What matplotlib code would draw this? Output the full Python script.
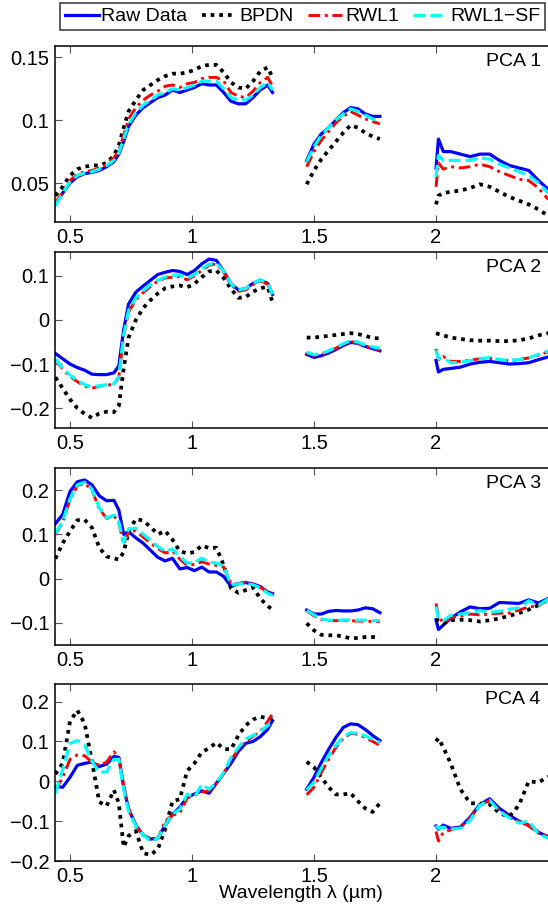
import numpy as np
import matplotlib
matplotlib.use('Agg')
import matplotlib.pyplot as plt
import matplotlib.transforms as mtransforms
from matplotlib.ticker import FuncFormatter

plt.rcParams['font.family'] = ['Liberation Sans', 'DejaVu Sans']
plt.rcParams['font.size'] = 14

# wavelength samples of the three bands (um)
wl_a = [0.44, 0.47, 0.50, 0.53, 0.56, 0.59, 0.62, 0.65, 0.68, 0.70, 0.72, 0.74, 0.77, 0.80, 0.83, 0.86,
        0.89, 0.92, 0.95, 0.98, 1.01, 1.04, 1.07, 1.10, 1.13, 1.16, 1.19, 1.22, 1.25, 1.28, 1.31, 1.33]
wl_b = [1.47, 1.50, 1.53, 1.56, 1.59, 1.62, 1.65, 1.68, 1.71, 1.74, 1.77]
wl_c = [2.00, 2.01, 2.03, 2.06, 2.10, 2.14, 2.18, 2.22, 2.26, 2.30, 2.34, 2.38, 2.42, 2.46]

labels = ['Raw Data', 'BPDN', 'RWL1', 'RWL1\u2212SF']
panel_names = ['PCA 1', 'PCA 2', 'PCA 3', 'PCA 4']

# PCA 1
raw_1 = [0.033, 0.042, 0.050, 0.055, 0.0575, 0.0585, 0.060, 0.063, 0.067, 0.073, 0.083, 0.095, 0.104, 0.110, 0.114, 0.118,
         0.120, 0.124, 0.122, 0.124, 0.126, 0.129, 0.128, 0.128, 0.122, 0.115, 0.113, 0.113, 0.118, 0.124, 0.128, 0.122,
         0.068, 0.081, 0.089, 0.094, 0.100, 0.106, 0.110, 0.109, 0.105, 0.103, 0.103,
         0.062, 0.085, 0.075, 0.075, 0.073, 0.071, 0.073, 0.073, 0.068, 0.064, 0.062, 0.060, 0.052, 0.045]
bpdn_1 = [0.040, 0.047, 0.056, 0.061, 0.063, 0.064, 0.064, 0.066, 0.072, 0.080, 0.094, 0.107, 0.116, 0.124, 0.128, 0.132,
          0.135, 0.137, 0.137, 0.138, 0.140, 0.143, 0.144, 0.144, 0.138, 0.130, 0.126, 0.125, 0.131, 0.139, 0.142, 0.134,
          0.049, 0.060, 0.069, 0.076, 0.083, 0.090, 0.096, 0.094, 0.090, 0.087, 0.085,
          0.033, 0.040, 0.042, 0.043, 0.044, 0.046, 0.049, 0.047, 0.043, 0.039, 0.036, 0.033, 0.029, 0.024]
rwl_1 = [0.034, 0.043, 0.052, 0.057, 0.059, 0.060, 0.062, 0.065, 0.070, 0.076, 0.088, 0.101, 0.110, 0.116, 0.120, 0.123,
         0.127, 0.128, 0.126, 0.129, 0.130, 0.133, 0.134, 0.134, 0.131, 0.122, 0.119, 0.118, 0.123, 0.130, 0.134, 0.127,
         0.063, 0.075, 0.084, 0.091, 0.098, 0.103, 0.107, 0.104, 0.101, 0.099, 0.097,
         0.047, 0.066, 0.061, 0.063, 0.062, 0.063, 0.065, 0.063, 0.059, 0.056, 0.053, 0.052, 0.046, 0.037]
sf_1 = [0.032, 0.042, 0.051, 0.056, 0.058, 0.059, 0.061, 0.064, 0.068, 0.074, 0.085, 0.097, 0.106, 0.112, 0.116, 0.120,
        0.122, 0.125, 0.124, 0.126, 0.128, 0.131, 0.131, 0.131, 0.125, 0.118, 0.116, 0.116, 0.120, 0.126, 0.130, 0.124,
        0.067, 0.079, 0.088, 0.094, 0.100, 0.105, 0.109, 0.107, 0.104, 0.101, 0.100,
        0.055, 0.072, 0.068, 0.068, 0.068, 0.068, 0.070, 0.069, 0.065, 0.062, 0.059, 0.056, 0.050, 0.042]

# PCA 2
raw_2 = [-0.076, -0.088, -0.100, -0.108, -0.114, -0.123, -0.124, -0.124, -0.120, -0.104, -0.022, 0.036, 0.063, 0.077, 0.090, 0.103,
         0.108, 0.112, 0.110, 0.103, 0.112, 0.127, 0.138, 0.135, 0.110, 0.082, 0.068, 0.071, 0.083, 0.090, 0.083, 0.058,
         -0.078, -0.085, -0.081, -0.075, -0.067, -0.058, -0.051, -0.053, -0.060, -0.065, -0.070,
         -0.092, -0.118, -0.112, -0.110, -0.107, -0.100, -0.096, -0.094, -0.097, -0.100, -0.099, -0.097, -0.090, -0.084]
bpdn_2 = [-0.130, -0.155, -0.180, -0.200, -0.213, -0.222, -0.212, -0.208, -0.209, -0.195, -0.110, -0.040, 0.000, 0.027, 0.045, 0.060,
          0.072, 0.076, 0.078, 0.074, 0.082, 0.097, 0.110, 0.112, 0.095, 0.070, 0.050, 0.052, 0.064, 0.072, 0.075, 0.040,
          -0.040, -0.040, -0.038, -0.036, -0.034, -0.032, -0.030, -0.032, -0.036, -0.041, -0.042,
          -0.030, -0.032, -0.035, -0.040, -0.043, -0.046, -0.047, -0.047, -0.048, -0.048, -0.046, -0.042, -0.035, -0.030]
rwl_2 = [-0.090, -0.112, -0.128, -0.140, -0.150, -0.155, -0.150, -0.148, -0.146, -0.130, -0.036, 0.018, 0.046, 0.062, 0.076, 0.088,
         0.095, 0.097, 0.098, 0.091, 0.100, 0.112, 0.124, 0.127, 0.108, 0.080, 0.065, 0.068, 0.080, 0.089, 0.081, 0.056,
         -0.075, -0.080, -0.078, -0.072, -0.064, -0.055, -0.049, -0.052, -0.060, -0.064, -0.068,
         -0.066, -0.090, -0.083, -0.094, -0.094, -0.091, -0.088, -0.087, -0.091, -0.092, -0.090, -0.086, -0.080, -0.072]
sf_2 = [-0.088, -0.110, -0.125, -0.137, -0.147, -0.152, -0.149, -0.147, -0.145, -0.128, -0.034, 0.022, 0.050, 0.066, 0.080, 0.090,
        0.097, 0.101, 0.102, 0.094, 0.103, 0.116, 0.126, 0.129, 0.110, 0.082, 0.068, 0.071, 0.083, 0.091, 0.083, 0.058,
        -0.073, -0.079, -0.076, -0.070, -0.062, -0.054, -0.047, -0.050, -0.057, -0.061, -0.064,
        -0.069, -0.088, -0.086, -0.097, -0.096, -0.092, -0.088, -0.085, -0.090, -0.092, -0.090, -0.086, -0.078, -0.070]

# PCA 3
raw_3 = [0.124, 0.145, 0.197, 0.219, 0.223, 0.212, 0.187, 0.176, 0.177, 0.155, 0.100, 0.106, 0.092, 0.080, 0.064, 0.048,
         0.040, 0.046, 0.022, 0.025, 0.018, 0.026, 0.015, 0.015, 0.005, -0.018, -0.011, -0.009, -0.012, -0.018, -0.030, -0.034,
         -0.071, -0.080, -0.080, -0.074, -0.072, -0.073, -0.073, -0.071, -0.066, -0.068, -0.077,
         -0.093, -0.115, -0.105, -0.090, -0.075, -0.064, -0.068, -0.067, -0.054, -0.055, -0.056, -0.048, -0.055, -0.045]
bpdn_3 = [0.045, 0.080, 0.107, 0.132, 0.133, 0.115, 0.070, 0.050, 0.046, 0.043, 0.060, 0.106, 0.135, 0.131, 0.117, 0.100,
          0.108, 0.088, 0.062, 0.057, 0.060, 0.075, 0.069, 0.070, 0.030, -0.022, -0.032, -0.026, -0.020, -0.045, -0.062, -0.070,
          -0.101, -0.117, -0.127, -0.128, -0.128, -0.131, -0.135, -0.134, -0.132, -0.132, -0.132,
          -0.090, -0.095, -0.101, -0.094, -0.093, -0.094, -0.097, -0.094, -0.090, -0.084, -0.078, -0.070, -0.060, -0.047]
rwl_3 = [0.100, 0.128, 0.178, 0.210, 0.216, 0.200, 0.158, 0.136, 0.142, 0.126, 0.078, 0.106, 0.108, 0.094, 0.080, 0.068,
         0.058, 0.062, 0.044, 0.030, 0.032, 0.038, 0.033, 0.030, 0.026, -0.012, -0.012, -0.008, -0.012, -0.020, -0.030, -0.032,
         -0.073, -0.084, -0.092, -0.095, -0.095, -0.095, -0.095, -0.096, -0.096, -0.097, -0.097,
         -0.056, -0.085, -0.100, -0.088, -0.085, -0.080, -0.082, -0.080, -0.078, -0.078, -0.071, -0.064, -0.062, -0.046]
sf_3 = [0.102, 0.130, 0.180, 0.212, 0.218, 0.202, 0.160, 0.137, 0.143, 0.128, 0.082, 0.112, 0.114, 0.100, 0.087, 0.072,
        0.062, 0.067, 0.050, 0.035, 0.037, 0.046, 0.037, 0.035, 0.028, -0.014, -0.012, -0.011, -0.014, -0.021, -0.033, -0.038,
        -0.072, -0.082, -0.091, -0.094, -0.094, -0.094, -0.093, -0.094, -0.094, -0.095, -0.095,
        -0.063, -0.090, -0.095, -0.083, -0.080, -0.077, -0.072, -0.076, -0.074, -0.069, -0.066, -0.050, -0.060, -0.046]

# PCA 4
raw_4 = [-0.013, -0.015, 0.010, 0.040, 0.045, 0.048, 0.037, 0.043, 0.062, 0.060, -0.015, -0.070, -0.110, -0.135, -0.145, -0.143,
         -0.110, -0.083, -0.065, -0.040, -0.032, -0.024, -0.030, -0.005, 0.020, 0.045, 0.075, 0.095, 0.100, 0.112, 0.130, 0.152,
         -0.020, 0.010, 0.047, 0.080, 0.110, 0.135, 0.144, 0.142, 0.130, 0.115, 0.102,
         -0.112, -0.120, -0.110, -0.118, -0.115, -0.090, -0.058, -0.044, -0.068, -0.085, -0.100, -0.110, -0.128, -0.140]
bpdn_4 = [0.018, 0.045, 0.150, 0.178, 0.145, 0.050, -0.052, -0.062, -0.022, -0.055, -0.165, -0.137, -0.125, -0.180, -0.185, -0.170,
          -0.120, -0.050, -0.045, 0.026, 0.045, 0.073, 0.083, 0.097, 0.081, 0.080, 0.115, 0.140, 0.155, 0.162, 0.158, 0.157,
          0.049, 0.035, 0.010, -0.015, -0.033, -0.033, -0.030, -0.050, -0.068, -0.077, -0.055,
          0.100, 0.108, 0.085, 0.045, -0.020, -0.055, -0.056, -0.058, -0.080, -0.089, -0.060, 0.000, -0.003, 0.012]
rwl_4 = [-0.022, 0.010, 0.055, 0.066, 0.064, 0.048, 0.040, 0.048, 0.074, 0.060, -0.010, -0.067, -0.114, -0.134, -0.147, -0.144,
         -0.100, -0.085, -0.080, -0.042, -0.035, -0.027, -0.024, -0.005, 0.020, 0.053, 0.080, 0.100, 0.113, 0.125, 0.150, 0.170,
         -0.034, -0.015, 0.022, 0.055, 0.085, 0.108, 0.120, 0.118, 0.110, 0.100, 0.090,
         -0.126, -0.150, -0.128, -0.122, -0.115, -0.092, -0.060, -0.048, -0.072, -0.090, -0.100, -0.112, -0.130, -0.138]
sf_4 = [-0.030, 0.030, 0.095, 0.102, 0.091, 0.050, 0.022, 0.024, 0.055, 0.055, -0.020, -0.075, -0.112, -0.135, -0.150, -0.143,
        -0.110, -0.082, -0.070, -0.032, -0.040, -0.008, -0.020, -0.003, 0.022, 0.060, 0.085, 0.106, 0.115, 0.125, 0.140, 0.150,
        -0.022, -0.002, 0.033, 0.065, 0.090, 0.112, 0.122, 0.120, 0.114, 0.105, 0.097,
        -0.110, -0.118, -0.115, -0.120, -0.118, -0.098, -0.060, -0.048, -0.075, -0.092, -0.105, -0.100, -0.132, -0.143]

series = [[raw_1, bpdn_1, rwl_1, sf_1],
          [raw_2, bpdn_2, rwl_2, sf_2],
          [raw_3, bpdn_3, rwl_3, sf_3],
          [raw_4, bpdn_4, rwl_4, sf_4]]

yticks = [[0.05, 0.1, 0.15], [-0.2, -0.1, 0, 0.1], [-0.1, 0, 0.1, 0.2], [-0.2, -0.1, 0, 0.1, 0.2]]
ylims = [(0.019, 0.159), (-0.245, 0.154), (-0.15, 0.25), (-0.2, 0.244)]
xticks = [0.5, 1, 1.5, 2]


def with_gaps(v):
    # NaN between the bands so the line breaks at the water absorption gaps
    na, nb = len(wl_a), len(wl_b)
    return list(v[:na]) + [np.nan] + list(v[na:na + nb]) + [np.nan] + list(v[na + nb:])


x = with_gaps(wl_a + wl_b + wl_c)

colors = ['#0000ff', 'k', '#ff0000', '#00ffff']
dashes = [None, (1.0, 1.3), (4.0, 1.6, 1.0, 1.6), (3.7, 1.6)]
widths = [2.3, 2.7, 2.1, 2.3]

fmt = FuncFormatter(lambda v, p: ('%g' % round(v, 3)).replace('-', '\u2212'))

W, H = 548, 905
left = 55 / W
tops = [46, 252, 468, 684]
bottoms = [222, 428, 645, 861]

fig = plt.figure(figsize=(W / 100, H / 100), dpi=100)
handles = []
for i in range(4):
    ax = fig.add_axes([left, 1 - bottoms[i] / H, 1 - left, (bottoms[i] - tops[i]) / H])
    for j in range(4):
        line, = ax.plot(x, with_gaps(series[i][j]), color=colors[j], lw=widths[j])
        if dashes[j] is not None:
            line.set_dashes(dashes[j])
        if i == 0:
            handles.append(line)
    ax.set_xlim(0.4385, 2.459)
    ax.set_ylim(*ylims[i])
    ax.set_xticks(xticks)
    ax.set_yticks(yticks[i])
    ax.xaxis.set_major_formatter(fmt)
    ax.yaxis.set_major_formatter(fmt)
    ax.tick_params(direction='in', top=True, right=False, length=5, width=0.8,
                   color='#555555', labelsize=14.5, pad=4)
    ax.spines['right'].set_visible(False)
    for s in ['left', 'top', 'bottom']:
        ax.spines[s].set_linewidth(1.1)
    trans = mtransforms.blended_transform_factory(ax.transData, ax.transAxes)
    ax.text(2.429, 0.91, panel_names[i], transform=trans, ha='right', va='center', fontsize=14)

fig.text(301 / W, 1 - 893 / H, 'Wavelength \u03bb (\u00b5m)', ha='center', va='center', fontsize=14)

leg = fig.legend(handles, labels, loc='upper center', bbox_to_anchor=(302.5 / W, 1 - 3 / H), ncol=4,
                 frameon=True, fancybox=False, edgecolor='k', handlelength=1.75, handletextpad=0.15,
                 columnspacing=0.75, borderpad=0.25, borderaxespad=0, fontsize=14)
leg.get_frame().set_linewidth(1.1)

fig.savefig('out.png', dpi=100)
